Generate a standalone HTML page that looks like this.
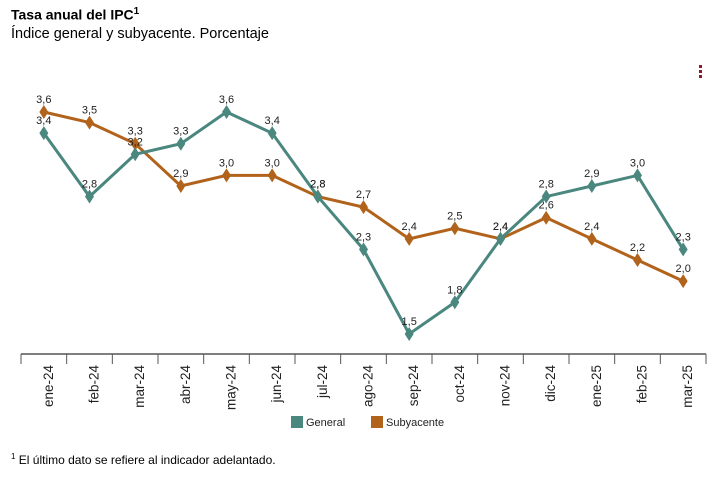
<!DOCTYPE html>
<html><head><meta charset="utf-8"><style>
body{margin:0;background:#fff;font-family:"Liberation Sans",Arial,sans-serif;}
#wrap{position:relative;width:716px;height:481px;overflow:hidden;}
.t{position:absolute;left:11px;color:#000;}
</style></head><body>
<div id="wrap">
<div class="t" style="top:6px;font-size:14px;font-weight:bold;">Tasa anual del IPC<sup style="font-size:10px">1</sup></div>
<div class="t" style="top:26px;font-size:14.5px;">Índice general y subyacente. Porcentaje</div>
<div style="position:absolute;left:699px;top:65px;width:4px;height:16px;">
<div style="width:3px;height:3px;background:#8b1a2b;margin-bottom:2px"></div><div style="width:3px;height:3px;background:#8b1a2b;margin-bottom:2px"></div><div style="width:3px;height:3px;background:#8b1a2b"></div></div>
<svg id="chart" width="716" height="481" style="position:absolute;left:0;top:0"></svg>
<div class="t" style="top:452px;font-size:12px;"><sup style="font-size:8px">1</sup> El último dato se refiere al indicador adelantado.</div>
</div>
<script>
const categories=["ene-24","feb-24","mar-24","abr-24","may-24","jun-24","jul-24","ago-24","sep-24","oct-24","nov-24","dic-24","ene-25","feb-25","mar-25"];
const generalValues=[3.4,2.8,3.2,3.3,3.6,3.4,2.8,2.3,1.5,1.8,2.4,2.8,2.9,3.0,2.3];
const subyacenteValues=[3.6,3.5,3.3,2.9,3.0,3.0,2.8,2.7,2.4,2.5,2.4,2.6,2.4,2.2,2.0];
const NS="http://www.w3.org/2000/svg";
const svg=document.getElementById('chart');
const x0=21,x1=706,axisY=354;
const step=(x1-x0)/categories.length;
function xS(i){return x0+step*(i+0.5);}
function yS(v){return 112+(3.6-v)*105.7;}
function mk(t,a,p){const e=document.createElementNS(NS,t);for(const k in a)e.setAttribute(k,a[k]);(p||svg).appendChild(e);return e;}
const ax=mk('line',{x1:x0,x2:x1,y1:axisY,y2:axisY,stroke:'#555','stroke-width':1.5});


for(let i=0;i<=categories.length;i++){
 const tk=mk('line',{x1:x0+step*i,x2:x0+step*i,y1:axisY,y2:axisY+10,stroke:'#555','stroke-width':1});
 
 
}
categories.forEach((c,i)=>{
 const x=xS(i)+9,y=365;
 const t=mk('text',{x:x,y:y,transform:`rotate(-90 ${x} ${y})`,'text-anchor':'end','font-size':'13.5',fill:'#222'});
 t.textContent=c;
 
 
});
function series(vals,color,name){
 const g=mk('g',{});
 
 
 mk('polyline',{points:vals.map((v,i)=>xS(i)+','+yS(v)).join(' '),fill:'none',stroke:color,'stroke-width':3},g);
 vals.forEach((v,i)=>{
  const x=xS(i),y=yS(v);
  const d=mk('polygon',{points:`${x},${y-7} ${x+4.5},${y} ${x},${y+7} ${x-4.5},${y}`,fill:color},g);
  
  
  const t=mk('text',{x:x,y:y-9,'text-anchor':'middle','font-size':'11',fill:'#222'},g);
  t.textContent=v.toFixed(1).replace('.',',');
  
  
 });
}
series(subyacenteValues,'#b2631b','subyacente');
series(generalValues,'#4a877f','general');
const lg=[['General','#4a877f',291],['Subyacente','#b2631b',371]];
lg.forEach(l=>{
 const g=mk('g',{});
 
 
 mk('rect',{x:l[2],y:416,width:12,height:12,fill:l[1]},g);
 const t=mk('text',{x:l[2]+15,y:426,'font-size':'11',fill:'#222'},g);
 t.textContent=l[0];
});
</script>
</body></html>
